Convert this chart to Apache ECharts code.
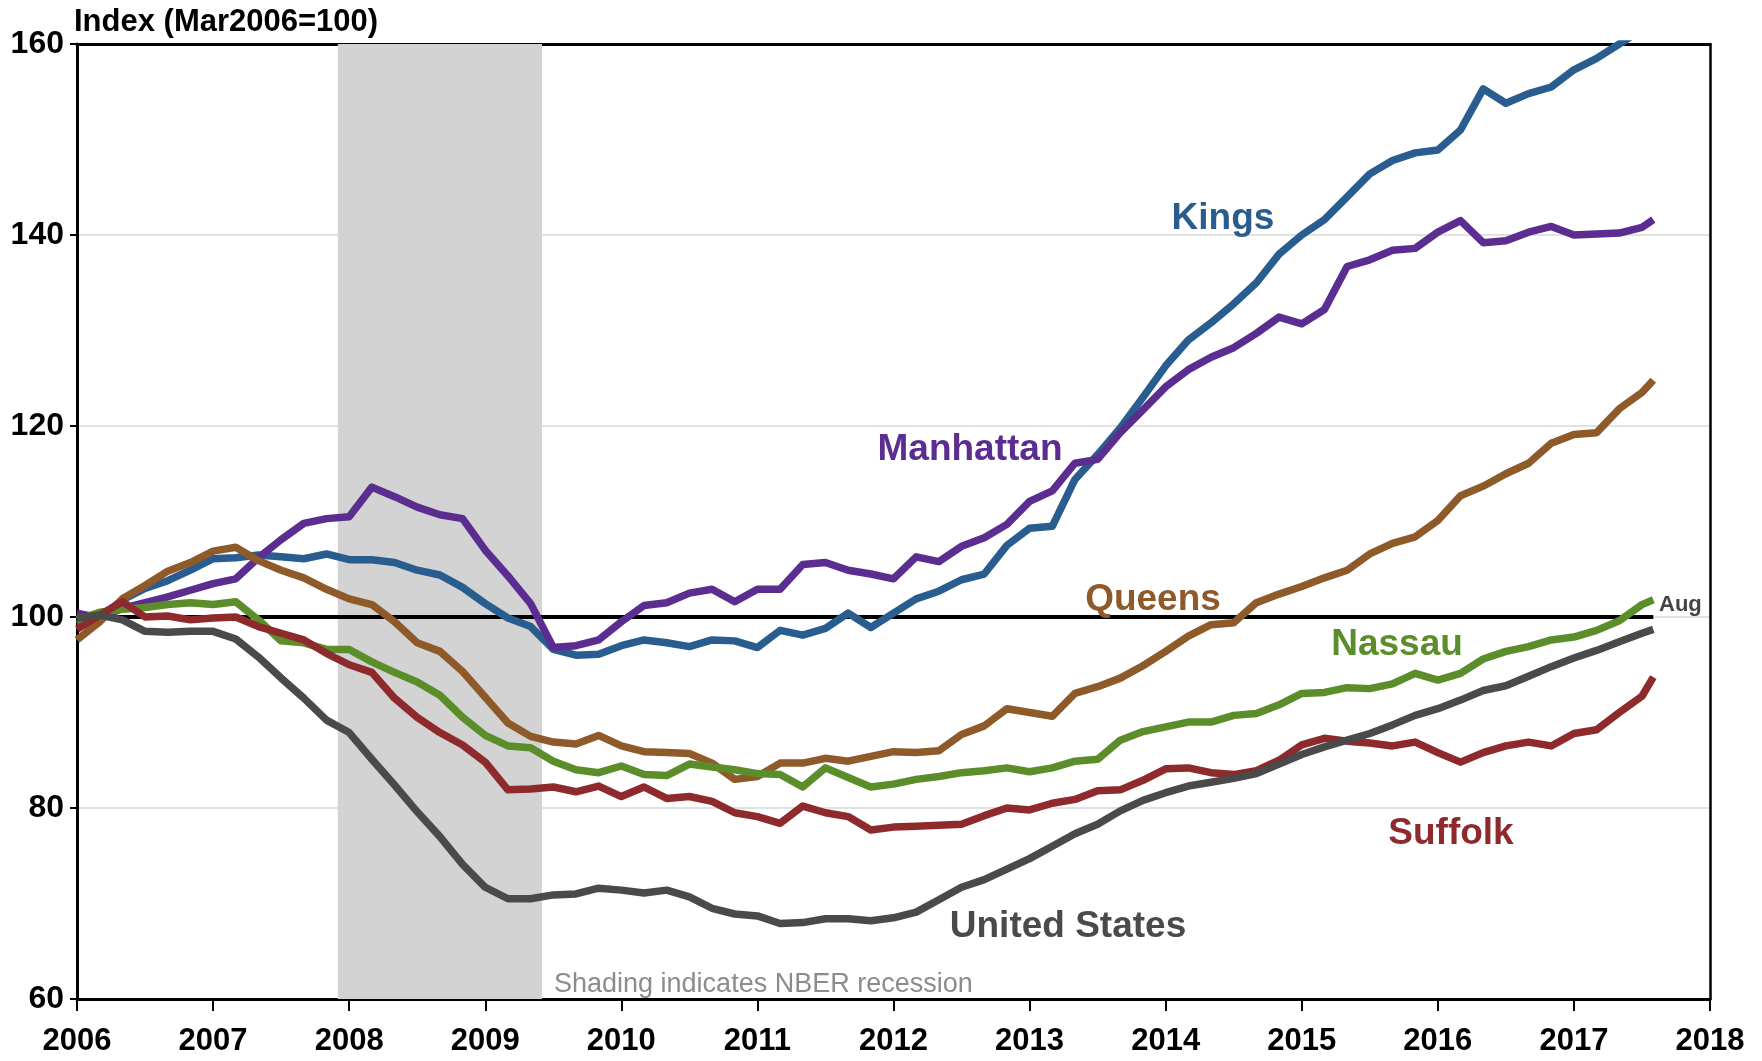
<!DOCTYPE html>
<html>
<head>
<meta charset="utf-8">
<title>House price index</title>
<script src="https://cdn.jsdelivr.net/npm/echarts@6/dist/echarts.min.js"></script>
<style>
html,body{margin:0;padding:0;background:#fff;}
#main{width:1762px;height:1061px;}
</style>
</head>
<body>
<div id="main"></div>
<script>
// months since Jan 2006 (every second month, last one is Aug 2017)
var months = [0,2,4,6,8,10,12,14,16,18,20,22,24,26,28,30,32,34,36,38,40,42,44,46,48,50,52,54,56,58,
    60,62,64,66,68,70,72,74,76,78,80,82,84,86,88,90,92,94,96,98,100,102,104,106,108,110,112,114,116,118,
    120,122,124,126,128,130,132,134,136,138,139];

var kings = [99.2,99.9,101.8,103.0,103.8,104.9,106.1,106.2,106.5,106.3,
    106.1,106.6,106.0,106.0,105.7,104.9,104.4,103.1,101.4,99.9,
    99.0,96.6,96.0,96.1,97.0,97.6,97.3,96.9,97.6,97.5,
    96.8,98.6,98.1,98.8,100.4,98.9,100.4,101.9,102.7,103.9,
    104.5,107.5,109.3,109.5,114.4,117.0,119.8,123.0,126.3,129.0,
    130.8,132.8,135.0,138.0,140.0,141.6,144.0,146.4,147.8,148.6,
    148.9,151.0,155.3,153.8,154.8,155.5,157.3,158.5,160.0,161.5,
    162.2];
var manhattan = [100.4,99.9,100.9,101.5,102.1,102.8,103.5,104.0,106.2,108.1,
    109.8,110.3,110.5,113.6,112.6,111.5,110.7,110.3,107.0,104.3,
    101.4,96.8,97.0,97.6,99.5,101.2,101.5,102.5,102.9,101.6,
    102.9,102.9,105.5,105.7,104.9,104.5,104.0,106.3,105.8,107.4,
    108.3,109.7,112.1,113.2,116.1,116.5,119.3,121.7,124.1,125.9,
    127.2,128.2,129.7,131.4,130.7,132.2,136.7,137.4,138.4,138.6,
    140.3,141.5,139.2,139.4,140.3,140.9,140.0,140.1,140.2,140.8,
    141.6];
var queens = [97.6,99.5,101.9,103.3,104.8,105.7,106.9,107.3,105.9,104.9,
    104.1,102.9,101.9,101.3,99.5,97.3,96.4,94.3,91.6,88.9,
    87.5,86.9,86.7,87.6,86.5,85.9,85.8,85.7,84.7,83.0,
    83.3,84.7,84.7,85.2,84.9,85.4,85.9,85.8,86.0,87.7,
    88.6,90.4,90.0,89.6,92.0,92.7,93.6,94.9,96.4,98.0,
    99.2,99.4,101.5,102.4,103.2,104.1,104.9,106.6,107.7,108.4,
    110.1,112.7,113.7,115.0,116.1,118.2,119.1,119.3,121.8,123.5,
    124.8];
var nassau = [99.7,100.5,100.8,101.0,101.3,101.5,101.3,101.6,99.7,97.5,
    97.3,96.6,96.6,95.3,94.2,93.2,91.8,89.5,87.6,86.5,
    86.3,84.9,84.0,83.7,84.4,83.5,83.4,84.6,84.3,84.0,
    83.6,83.5,82.2,84.2,83.2,82.2,82.5,83.0,83.3,83.7,
    83.9,84.2,83.8,84.2,84.9,85.1,87.1,88.0,88.5,89.0,
    89.0,89.7,89.9,90.8,92.0,92.1,92.6,92.5,93.0,94.1,
    93.4,94.1,95.6,96.4,96.9,97.6,97.9,98.6,99.6,101.3,
    101.8];
var suffolk = [98.7,100.2,101.6,100.0,100.1,99.7,99.9,100.0,99.0,98.3,
    97.6,96.2,95.0,94.2,91.5,89.5,87.9,86.6,84.8,81.9,
    82.0,82.2,81.7,82.3,81.2,82.2,81.0,81.2,80.7,79.5,
    79.1,78.4,80.2,79.5,79.1,77.7,78.0,78.1,78.2,78.3,
    79.2,80.0,79.8,80.5,80.9,81.8,81.9,82.9,84.1,84.2,
    83.7,83.5,83.9,85.0,86.6,87.3,87.0,86.8,86.5,86.9,
    85.8,84.8,85.8,86.5,86.9,86.5,87.8,88.2,90.0,91.7,
    93.7];
var unitedStates = [99.9,100.2,99.7,98.5,98.4,98.5,98.5,97.7,95.8,93.6,
    91.5,89.2,87.9,85.1,82.4,79.6,77.0,74.1,71.7,70.5,
    70.5,70.9,71.0,71.6,71.4,71.1,71.4,70.7,69.5,68.9,
    68.7,67.9,68.0,68.4,68.4,68.2,68.5,69.1,70.4,71.7,
    72.5,73.6,74.7,76.0,77.3,78.3,79.7,80.8,81.6,82.3,
    82.7,83.1,83.6,84.6,85.6,86.4,87.1,87.8,88.7,89.7,
    90.4,91.3,92.3,92.8,93.8,94.8,95.7,96.5,97.4,98.3,
    98.7];

var yTicks = [60, 80, 100, 120, 140, 160];
var recession = [2007 + 11 / 12, 2009 + 5 / 12]; // Dec 2007 - Jun 2009

var FONT = '"Liberation Sans", Arial, sans-serif';

// turn month offsets into decimal years for the value axis
function pairs(values) {
    var out = [];
    for (var i = 0; i < values.length; i++) {
        out.push([2006 + months[i] / 12, values[i]]);
    }
    return out;
}

function lineSeries(name, values, color) {
    return {
        name: name,
        type: 'line',
        data: pairs(values),
        symbol: 'none',
        z: 5,
        clip: true,
        lineStyle: {color: color, width: 7.5, join: 'round'}
    };
}

function label(text, x, y, color, size, weight, align) {
    return {
        type: 'text',
        x: x,
        y: y,
        z: 100,
        style: {
            text: text,
            fill: color,
            fontFamily: FONT,
            fontSize: size,
            fontWeight: weight,
            align: align || 'center',
            verticalAlign: 'middle'
        }
    };
}

var lastX = 2006 + months[months.length - 1] / 12;

var chart = echarts.init(document.getElementById('main'));
var option = {
    animation: false,
    backgroundColor: '#fff',
    grid: {left: 77, right: 52, top: 44, bottom: 62},
    xAxis: [{
        type: 'value',
        min: 2006,
        max: 2018,
        interval: 1,
        axisLine: {show: true, lineStyle: {color: '#000', width: 3}},
        axisTick: {show: true, inside: false, length: 12, lineStyle: {color: '#000', width: 2}},
        axisLabel: {
            margin: 27, color: '#000', fontFamily: FONT, fontSize: 31, fontWeight: 'bold',
            formatter: function (v) { return String(v); }
        },
        splitLine: {show: false}
    }, {
        // top edge of the frame
        type: 'value',
        position: 'top',
        min: 2006,
        max: 2018,
        axisLine: {show: true, lineStyle: {color: '#000', width: 3}},
        axisTick: {show: false},
        axisLabel: {show: false},
        splitLine: {show: false}
    }],
    yAxis: [{
        type: 'value',
        min: yTicks[0],
        max: yTicks[yTicks.length - 1],
        interval: 20,
        axisLine: {show: true, lineStyle: {color: '#000', width: 3}},
        axisTick: {show: true, inside: false, length: 7, lineStyle: {color: '#000', width: 2}},
        axisLabel: {margin: 13, color: '#000', fontFamily: FONT, fontSize: 32, fontWeight: 'bold'},
        splitLine: {show: true, lineStyle: {color: '#d9d9d9', width: 1.5}}
    }, {
        // right edge of the frame
        type: 'value',
        position: 'right',
        min: 60,
        max: 160,
        axisLine: {show: true, lineStyle: {color: '#000', width: 2.5}},
        axisTick: {show: false},
        axisLabel: {show: false},
        splitLine: {show: false}
    }],
    series: [
        {
            // recession shading
            type: 'line',
            data: [],
            z: 1,
            silent: true,
            markArea: {
                silent: true,
                itemStyle: {color: '#d3d3d3'},
                data: [[{xAxis: recession[0]}, {xAxis: recession[1]}]]
            }
        },
        {
            // the 100 reference line
            type: 'line',
            data: [],
            z: 2,
            silent: true,
            markLine: {
                silent: true,
                symbol: 'none',
                label: {show: false},
                lineStyle: {color: '#000', width: 4, type: 'solid'},
                data: [[{coord: [2006, 100]}, {coord: [lastX, 100]}]]
            }
        },
        lineSeries('Kings', kings, '#2a5d8f'),
        lineSeries('Manhattan', manhattan, '#5c2d91'),
        lineSeries('Queens', queens, '#8f5a29'),
        lineSeries('Nassau', nassau, '#5b8e2a'),
        lineSeries('Suffolk', suffolk, '#8e2a2c'),
        lineSeries('United States', unitedStates, '#4a4a4a')
    ],
    graphic: [
        label('Index (Mar2006=100)', 74, 22, '#000', 31, 'bold', 'left'),
        label('Kings', 1223, 219, '#2a5d8f', 37, 'bold'),
        label('Manhattan', 970, 450, '#5c2d91', 37, 'bold'),
        label('Queens', 1153, 600, '#8f5a29', 37, 'bold'),
        label('Nassau', 1397, 645, '#5b8e2a', 37, 'bold'),
        label('Suffolk', 1451, 834, '#8e2a2c', 37, 'bold'),
        label('United States', 1068, 927, '#4a4a4a', 37, 'bold'),
        label('Aug', 1659, 605, '#444', 22, 'bold', 'left'),
        label('Shading indicates NBER recession', 554, 985, '#8c8c8c', 27, 'normal', 'left')
    ]
};
chart.setOption(option);
</script>
</body>
</html>
